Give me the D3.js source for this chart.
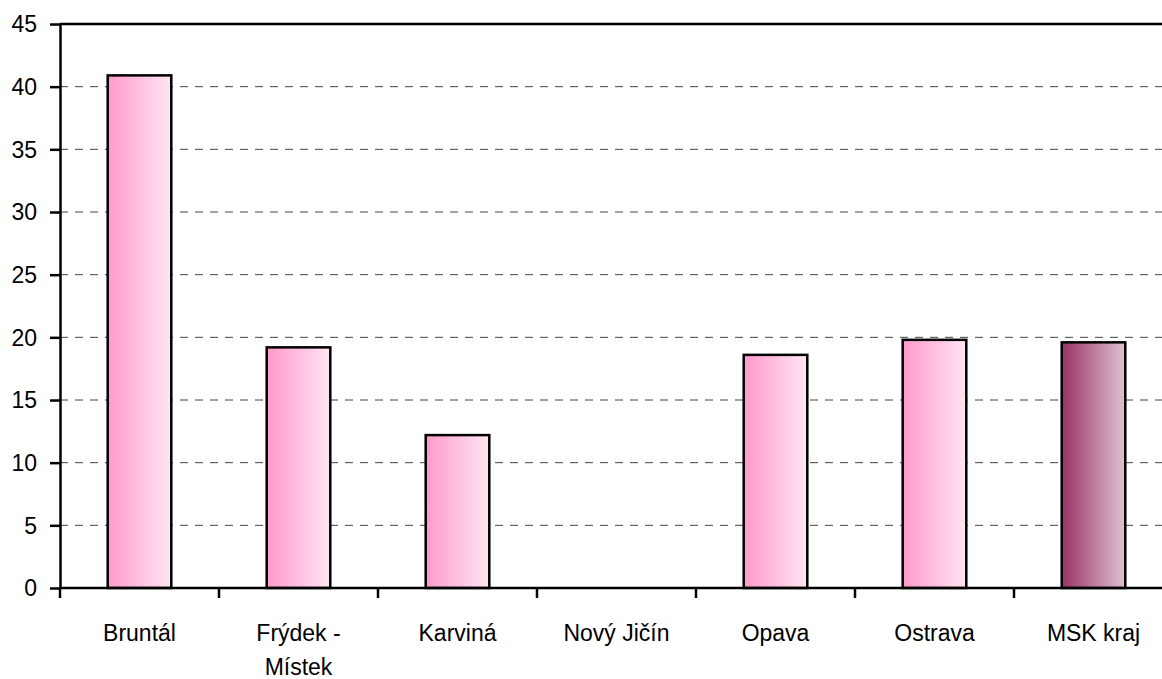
<!DOCTYPE html>
<html>
<head>
    <meta charset="utf-8">
    <script src="https://d3js.org/d3.v7.min.js"></script>
    <style>
        html, body { margin: 0; padding: 0; background: #fff; }
        svg text { font-family: 'Liberation Sans', Arial, sans-serif; fill: #000; }
        .grid line { stroke: #444; stroke-width: 1px; stroke-dasharray: 8,7; }
    </style>
</head>
<body>
<div id="chart"></div>
<script>
    // data
    var districts = ["Bruntál", "Frýdek - Místek", "Karviná", "Nový Jičín", "Opava", "Ostrava", "MSK kraj"];
    var values = [40.9, 19.2, 12.2, 0, 18.6, 19.8, 19.6];
    var yTicks = [0, 5, 10, 15, 20, 25, 30, 35, 40, 45];

    var width = 1162, height = 679;
    var plotLeft = 60, plotRight = 1173, plotTop = 24, plotBottom = 588;
    var stretch = "scale(1,1.08)";   // original text is a bit taller than plain Arial

    var svg = d3.select("#chart").append("svg")
        .attr("width", width)
        .attr("height", height);

    var defs = svg.append("defs");
    function grad(id, c0, c1) {
        var g = defs.append("linearGradient").attr("id", id)
            .attr("x1", "0%").attr("x2", "100%").attr("y1", "0%").attr("y2", "0%");
        g.append("stop").attr("offset", "0%").attr("stop-color", c0);
        g.append("stop").attr("offset", "100%").attr("stop-color", c1);
    }
    grad("pink", "#ff99cc", "#ffe6f2");
    grad("plum", "#993366", "#ddc2cf");

    var x = d3.scaleBand()
        .domain(districts)
        .range([plotLeft, plotRight])
        .paddingInner(0.6)
        .paddingOuter(0.3);

    var y = d3.scaleLinear()
        .domain([0, 45])
        .range([plotBottom, plotTop]);

    // dashed gridlines
    svg.append("g").attr("class", "grid")
        .selectAll("line")
        .data(yTicks.filter(d => d > 0 && d < 45))
        .join("line")
        .attr("x1", plotLeft).attr("x2", plotRight)
        .attr("y1", d => y(d)).attr("y2", d => y(d));

    // top border of plot area
    svg.append("line")
        .attr("x1", plotLeft).attr("x2", plotRight)
        .attr("y1", plotTop).attr("y2", plotTop)
        .attr("stroke", "#000").attr("stroke-width", 2.5);

    // bars
    svg.append("g")
        .selectAll("rect")
        .data(districts.map((d, i) => ({name: d, value: values[i]})).filter(d => d.value > 0))
        .join("rect")
        .attr("x", d => x(d.name))
        .attr("y", d => y(d.value))
        .attr("width", x.bandwidth())
        .attr("height", d => y(0) - y(d.value))
        .attr("fill", d => d.name === "MSK kraj" ? "url(#plum)" : "url(#pink)")
        .attr("stroke", "#000")
        .attr("stroke-width", 2.5);

    // y axis
    var yAxis = svg.append("g")
        .attr("transform", "translate(" + plotLeft + ",0)")
        .call(d3.axisLeft(y).tickValues(yTicks).tickSize(10).tickPadding(13).tickSizeOuter(0));
    yAxis.select(".domain").attr("stroke-width", 2.5);
    yAxis.selectAll(".tick line").attr("stroke-width", 2.5);
    yAxis.selectAll("text").attr("font-size", 23).attr("transform", stretch);

    // x axis: ticks at category boundaries
    var step = x.step();
    var xTicks = d3.range(districts.length + 1).map(i => plotLeft + i * step);
    svg.append("line")
        .attr("x1", plotLeft).attr("x2", plotRight)
        .attr("y1", plotBottom).attr("y2", plotBottom)
        .attr("stroke", "#000").attr("stroke-width", 2.5);
    svg.append("g")
        .selectAll("line")
        .data(xTicks)
        .join("line")
        .attr("x1", d => d).attr("x2", d => d)
        .attr("y1", plotBottom).attr("y2", plotBottom + 10)
        .attr("stroke", "#000").attr("stroke-width", 2.5);

    // category labels (wrapped like the original)
    var labels = svg.append("g")
        .selectAll("g")
        .data(districts)
        .join("g")
        .attr("transform", d => "translate(" + (x(d) + x.bandwidth() / 2) + ",641)")
        .append("text")
        .attr("text-anchor", "middle")
        .attr("font-size", 23)
        .attr("transform", stretch);
    labels.each(function(d) {
        var lines = d === "Frýdek - Místek" ? ["Frýdek -", "Místek"] : [d];
        var t = d3.select(this);
        lines.forEach((l, i) => {
            t.append("tspan")
                .attr("x", 0)
                .attr("dy", i === 0 ? 0 : 31.5)
                .text(l);
        });
    });
</script>
</body>
</html>
